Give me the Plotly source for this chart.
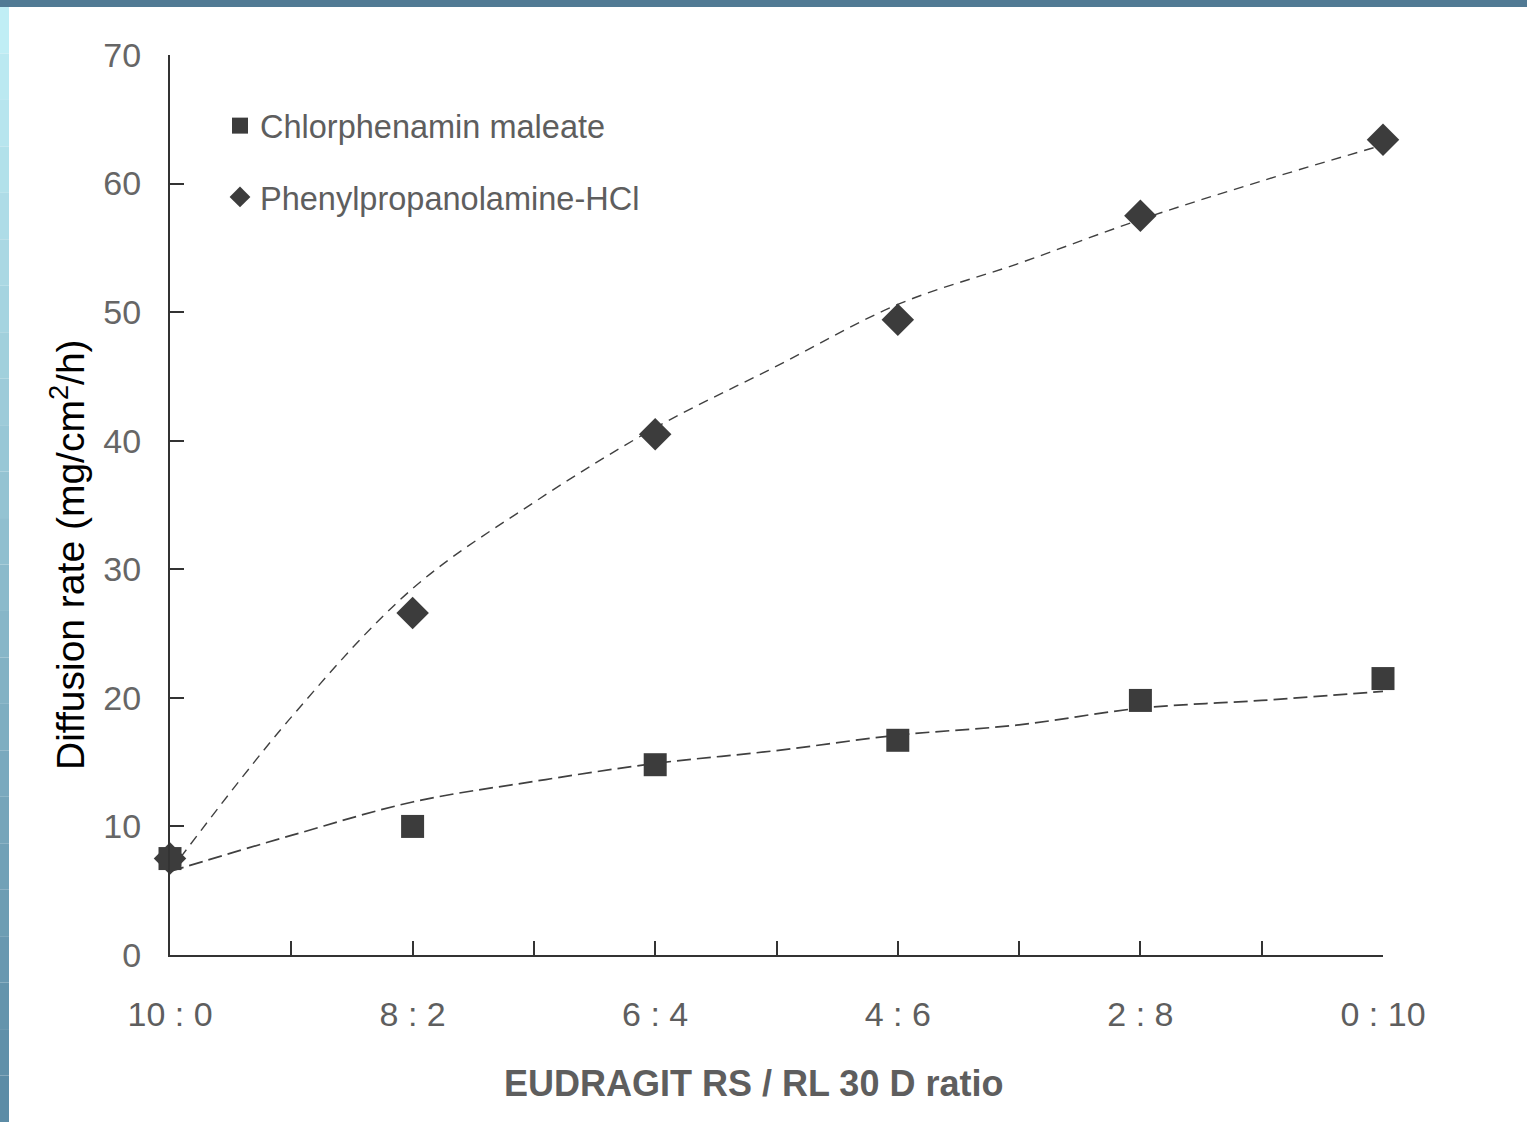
import plotly.graph_objects as go

# ---- data ----
ratio_labels = ["10 : 0", "8 : 2", "6 : 4", "4 : 6", "2 : 8", "0 : 10"]
ratio_pos = [0, 1, 2, 3, 4, 5]
minor_pos = [0.5, 1.5, 2.5, 3.5, 4.5]
chlor = [7.5, 10.0, 14.8, 16.7, 19.8, 21.5]
phenyl = [7.5, 26.6, 40.5, 49.4, 57.5, 63.4]

fit_x = [0, 0.5, 1, 1.5, 2, 2.5, 3, 3.5, 4, 4.5, 5]
chlor_fit = [6.5, 9.3, 11.9, 13.5, 14.9, 15.9, 17.1, 17.9, 19.2, 19.8, 20.5]
phenyl_fit = [6.5, 18.5, 28.5, 35.2, 41.0, 45.8, 50.6, 53.8, 57.2, 60.2, 63.0]

y_ticks = [0, 10, 20, 30, 40, 50, 60, 70]

x_title = "<b>EUDRAGIT RS / RL 30 D ratio</b>"
y_title = "Diffusion rate (mg/cm<sup>2</sup>/h)"

W, H = 1527, 1122
L, R, T, B = 170, 1383, 55, 955

def px_x(p):
    return (p - L) / (R - L)

def px_y(p):
    return (B - p) / (B - T)

mark_col = "#3c3c3c"
line_col = "#404040"
txt_col = "#5e5e5e"

fig = go.Figure()

fig.add_trace(go.Scatter(x=fit_x, y=phenyl_fit, mode="lines",
                         line=dict(color=line_col, width=1.4, dash="10px,7px", shape="spline"),
                         showlegend=False, hoverinfo="skip"))
fig.add_trace(go.Scatter(x=fit_x, y=chlor_fit, mode="lines",
                         line=dict(color=line_col, width=1.7, dash="14px,6px", shape="spline"),
                         showlegend=False, hoverinfo="skip"))

fig.add_trace(go.Scatter(x=ratio_pos, y=chlor, mode="markers", name="Chlorphenamin maleate",
                         marker=dict(symbol="square", size=23, color=mark_col), cliponaxis=False,
                         legendgroup="a"))
fig.add_trace(go.Scatter(x=ratio_pos, y=phenyl, mode="markers", name="Phenylpropanolamine-HCl",
                         marker=dict(symbol="diamond", size=25, color=mark_col), cliponaxis=False,
                         legendgroup="b"))

shapes = []
# top bar
shapes.append(dict(type="rect", xref="paper", yref="paper", x0=px_x(0), x1=px_x(W), y0=px_y(7), y1=px_y(0),
                   fillcolor="#517a94", line=dict(width=0), layer="above"))
# left gradient strip
top_rgb = (192, 238, 245)
bot_rgb = (92, 140, 166)
n = 24
for i in range(n):
    t = i / (n - 1)
    c = tuple(int(top_rgb[k] + (bot_rgb[k] - top_rgb[k]) * t) for k in range(3))
    y0p = 7 + (H - 7) * i / n
    y1p = 7 + (H - 7) * (i + 1) / n
    shapes.append(dict(type="rect", xref="paper", yref="paper", x0=px_x(0), x1=px_x(9),
                       y0=px_y(y1p), y1=px_y(y0p), fillcolor="rgb(%d,%d,%d)" % c, line=dict(width=0), layer="above"))

annotations = [
    dict(text=x_title, xref="paper", yref="paper", x=px_x(753), y=px_y(1083), xanchor="center", yanchor="middle",
         showarrow=False, font=dict(size=36, color=txt_col)),
    dict(text=y_title, xref="paper", yref="paper", x=px_x(67), y=px_y(555), xanchor="center", yanchor="middle",
         textangle=-90, showarrow=False, font=dict(size=39, color="black")),
]

fig.update_layout(
    width=W, height=H,
    margin=dict(l=L, r=W - R, t=T, b=H - B, pad=0),
    paper_bgcolor="white", plot_bgcolor="white",
    font=dict(family="Liberation Sans, Arial, sans-serif", color=txt_col),
    shapes=shapes,
    annotations=annotations,
    legend=dict(x=px_x(220), y=px_y(98), xanchor="left", yanchor="top",
                font=dict(size=32.5, color=txt_col), bgcolor="rgba(0,0,0,0)",
                tracegroupgap=26, itemwidth=30),
    xaxis=dict(range=[0, 5], tickvals=ratio_pos, ticktext=ratio_labels, ticks="inside", ticklen=14,
               tickcolor="#333", tickwidth=2, showline=True, linecolor="#333", linewidth=2,
               minor=dict(tickvals=minor_pos, ticks="inside", ticklen=14, tickcolor="#333", tickwidth=2,
                          showgrid=False),
               showgrid=False, zeroline=False, tickfont=dict(size=34, color=txt_col),
               ticklabelstandoff=28),
    yaxis=dict(range=[0, 70], tickvals=y_ticks, ticks="inside", ticklen=14,
               tickcolor="#333", tickwidth=2, showline=True, linecolor="#333", linewidth=2,
               showgrid=False, zeroline=False, tickfont=dict(size=34, color="#666666"),
               ticklabelstandoff=20),
)

fig.write_html("out.html")
